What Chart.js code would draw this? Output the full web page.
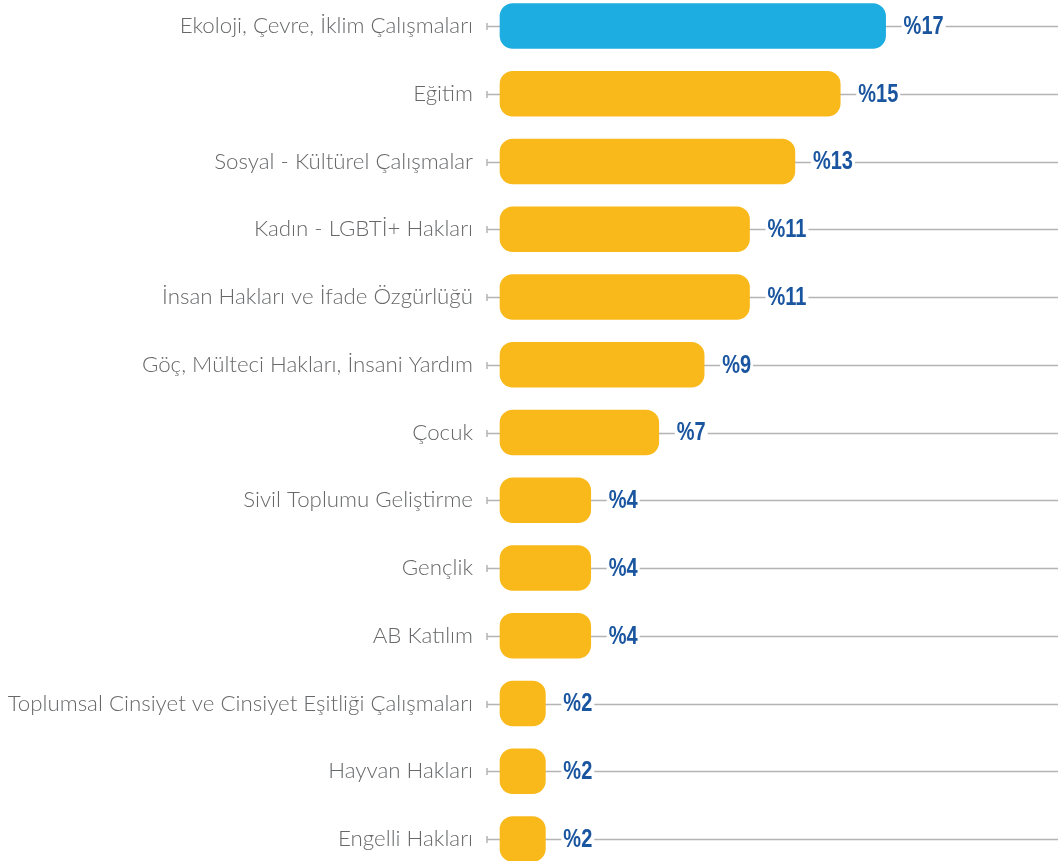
<!DOCTYPE html>
<html>
<head>
<meta charset="utf-8">
<script src="https://cdn.jsdelivr.net/npm/chart.js@4.4.1/dist/chart.umd.min.js"></script>
<style>
  html, body { margin: 0; padding: 0; background: #ffffff; }
  #wrap { width: 1058px; height: 861px; position: relative; }
</style>
</head>
<body>
<div id="wrap"><canvas id="c"></canvas></div>
<script>
const categories = [
  "Ekoloji, Çevre, İklim Çalışmaları",
  "Eğitim",
  "Sosyal - Kültürel Çalışmalar",
  "Kadın - LGBTİ+ Hakları",
  "İnsan Hakları ve İfade Özgürlüğü",
  "Göç, Mülteci Hakları, İnsani Yardım",
  "Çocuk",
  "Sivil Toplumu Geliştirme",
  "Gençlik",
  "AB Katılım",
  "Toplumsal Cinsiyet ve Cinsiyet Eşitliği Çalışmaları",
  "Hayvan Hakları",
  "Engelli Hakları"
];
const values = [17, 15, 13, 11, 11, 9, 7, 4, 4, 4, 2, 2, 2];
const valueLabels = ["%17", "%15", "%13", "%11", "%11", "%9", "%7", "%4", "%4", "%4", "%2", "%2", "%2"];
const highlightIndex = 0;

const BLUE = "#1dade0";
const YELLOW = "#f9b91a";
const LINE = "#b4b4b4";
const LABEL_BLUE = "#1a55a0";
const TEXT_GRAY = "#67686a";

const rowLines = {
  id: "rowLines",
  beforeDatasetsDraw(chart) {
    const ctx = chart.ctx;
    const y = chart.scales.y;
    const area = chart.chartArea;
    ctx.save();
    ctx.strokeStyle = LINE;
    ctx.lineWidth = 1.5;
    categories.forEach((c, i) => {
      const py = Math.round(y.getPixelForValue(i)) + 0.5;
      ctx.beginPath();
      ctx.moveTo(area.left - 13, py);
      ctx.lineTo(chart.width, py);
      ctx.stroke();
      ctx.beginPath();
      ctx.moveTo(area.left - 13, py - 3.5);
      ctx.lineTo(area.left - 13, py + 3.5);
      ctx.stroke();
    });
    ctx.restore();
  }
};

const valueTags = {
  id: "valueTags",
  afterDatasetsDraw(chart) {
    const ctx = chart.ctx;
    const meta = chart.getDatasetMeta(0);
    const sx = 0.8;
    ctx.save();
    ctx.font = "bold 25px 'Liberation Sans', Arial, sans-serif";
    ctx.textBaseline = "middle";
    ctx.textAlign = "left";
    meta.data.forEach((bar, i) => {
      const txt = valueLabels[i];
      const x = bar.x + 18;
      const w = ctx.measureText(txt).width * sx;
      ctx.fillStyle = "#ffffff";
      ctx.fillRect(x - 2, bar.y - 4, w + 4, 8);
      ctx.save();
      ctx.translate(x, bar.y + 1);
      ctx.scale(sx, 1);
      ctx.fillStyle = LABEL_BLUE;
      ctx.fillText(txt, 0, 0);
      ctx.restore();
    });
    ctx.restore();
  }
};

new Chart(document.getElementById("c"), {
  type: "bar",
  data: {
    labels: categories,
    datasets: [{
      data: values,
      backgroundColor: values.map((v, i) => i === highlightIndex ? BLUE : YELLOW),
      borderRadius: 13,
      borderSkipped: false,
      barThickness: 45,
      clip: false
    }]
  },
  options: {
    indexAxis: "y",
    responsive: true,
    maintainAspectRatio: false,
    animation: false,
    layout: { padding: { top: 26, bottom: 22, left: 0, right: 0 } },
    plugins: { legend: { display: false }, tooltip: { enabled: false } },
    scales: {
      x: { display: false, min: 0, max: 24.6 },
      y: {
        offset: false,
        border: { display: false },
        grid: { display: false, drawTicks: true, tickLength: 27 },
        ticks: {
          color: TEXT_GRAY,
          padding: 0,
          font: { family: "Lato, 'Open Sans', sans-serif", size: 22.3, weight: 300 }
        },
        afterFit(scale) { scale.width = 500; }
      }
    }
  },
  plugins: [rowLines, valueTags]
});
</script>
</body>
</html>
